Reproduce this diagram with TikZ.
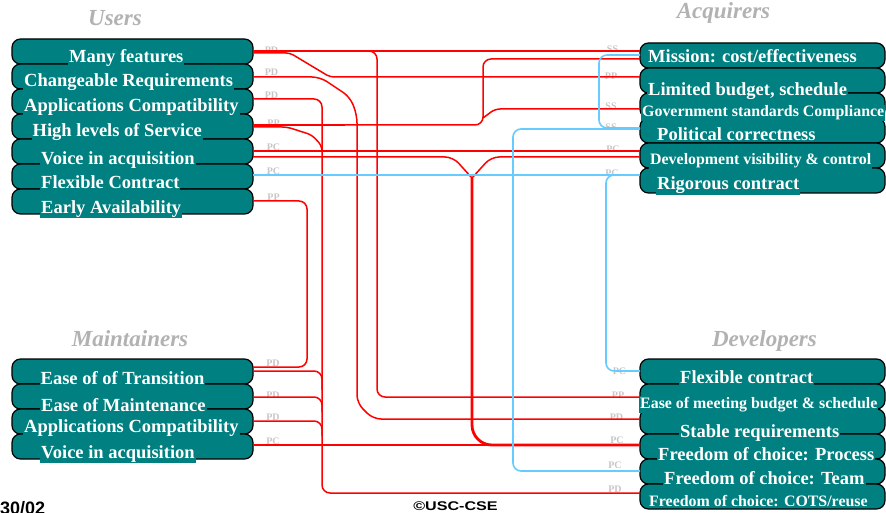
\documentclass[tikz,border=0pt]{standalone}
\usepackage{fontspec}
\setmainfont{Liberation Serif}
\setsansfont{Liberation Sans}
\usetikzlibrary{positioning}
\definecolor{stakeColor}{RGB}{0,128,128}
\definecolor{linkRedColor}{RGB}{255,0,0}
\definecolor{linkDarkColor}{RGB}{190,20,20}
\definecolor{linkBlueColor}{RGB}{102,204,255}
\colorlet{tagColor}{gray!45}
\colorlet{groupColor}{gray!60}

\begin{document}
\begin{tikzpicture}[x=1pt,y=-1pt,
    stakeBox/.style={draw=black, line width=1.2pt, fill=stakeColor, rounded corners=8.5pt,
      minimum height=25pt, inner sep=0, outer sep=0},
    leftBox/.style={stakeBox, minimum width=241pt},
    rightBox/.style={stakeBox, minimum width=245pt},
    stakeText/.style={fill=stakeColor, text=white, inner sep=1pt, anchor=base west,
      font=\fontsize{18.5}{20}\selectfont\bfseries},
    smallText/.style={font=\fontsize{15.9}{17}\selectfont\bfseries},
    relTag/.style={text=tagColor, inner sep=0, font=\fontsize{10}{10}\selectfont\bfseries},
    groupTitle/.style={text=groupColor, inner sep=0, anchor=base,
      font=\fontsize{23}{25}\selectfont\bfseries\itshape},
    linkRed/.style={draw=linkRedColor, line width=1.5pt, rounded corners=8pt},
    linkBlue/.style={draw=linkBlueColor, line width=1.6pt, rounded corners=8pt}
  ]
  \fill[white] (0,0) rectangle (886,513);
  \useasboundingbox (0,0) rectangle (886,513);

  % Users
  \node[leftBox] (u1) at (132.5,51.5) {};
  \node[leftBox, below=0pt of u1] (u2) {};
  \node[leftBox, below=0pt of u2] (u3) {};
  \node[leftBox, below=0pt of u3] (u4) {};
  \node[leftBox, below=0pt of u4] (u5) {};
  \node[leftBox, below=0pt of u5] (u6) {};
  \node[leftBox, below=0pt of u6] (u7) {};
  \node[stakeText] (u1t) at (68,63) {Many features};
  \node[stakeText] (u2t) at (23,86.5) {Changeable Requirements};
  \node[stakeText] (u3t) at (23,112) {Applications Compatibility};
  \node[stakeText] (u4t) at (31.5,137) {High levels of Service};
  \node[stakeText] (u5t) at (40,164.5) {Voice in acquisition};
  \node[stakeText] (u6t) at (40,189) {Flexible Contract};
  \node[stakeText] (u7t) at (40,213.5) {Early Availability};

  % Acquirers
  \node[rightBox] (a1) at (762.5,55.5) {};
  \node[rightBox, below=0pt of a1] (a2) {};
  \node[rightBox, below=0pt of a2] (a3) {};
  \node[rightBox, below=0pt of a3] (a4) {};
  \node[rightBox, below=0pt of a4] (a5) {};
  \node[rightBox, below=0pt of a5] (a6) {};
  \node[stakeText] (a1t) at (647,63) {Mission: cost/effectiveness};
  \node[stakeText] (a2t) at (647,95.5) {Limited budget, schedule};
  \node[stakeText, smallText] (a3t) at (641,117) {Government standards Compliance};
  \node[stakeText] (a4t) at (656,140.5) {Political correctness};
  \node[stakeText, smallText] (a5t) at (649,164.5) {Development visibility \& control};
  \node[stakeText] (a6t) at (656,189.5) {Rigorous contract};

  % Maintainers
  \node[leftBox] (m1) at (132.5,371.5) {};
  \node[leftBox, below=0pt of m1] (m2) {};
  \node[leftBox, below=0pt of m2] (m3) {};
  \node[leftBox, below=0pt of m3] (m4) {};
  \node[stakeText] (m1t) at (39.5,384.5) {Ease of of Transition};
  \node[stakeText] (m2t) at (40,411) {Ease of Maintenance};
  \node[stakeText] (m3t) at (23,432) {Applications Compatibility};
  \node[stakeText] (m4t) at (40,458.5) {Voice in acquisition};

  % Developers
  \node[rightBox] (d1) at (762.5,371.5) {};
  \node[rightBox, below=0pt of d1] (d2) {};
  \node[rightBox, below=0pt of d2] (d3) {};
  \node[rightBox, below=0pt of d3] (d4) {};
  \node[rightBox, below=0pt of d4] (d5) {};
  \node[rightBox, below=0pt of d5] (d6) {};
  \node[stakeText] (d1t) at (679,383.5) {Flexible contract};
  \node[stakeText, smallText] (d2t) at (639,408.5) {Ease of meeting budget \& schedule};
  \node[stakeText] (d3t) at (679,437) {Stable requirements};
  \node[stakeText] (d4t) at (657,460.5) {Freedom of choice: Process};
  \node[stakeText] (d5t) at (663,484.5) {Freedom of choice: Team};
  \node[stakeText, smallText] (d6t) at (648,506.5) {Freedom of choice: COTS/reuse};

  % group titles
  \node[groupTitle] (users) at (115,26) {Users};
  \node[groupTitle] (acquirers) at (723.5,18.3) {Acquirers};
  \node[groupTitle] (maintainers) at (130,346.7) {Maintainers};
  \node[groupTitle] (developers) at (764.5,346.7) {Developers};

  % relation tags
  \node[relTag] (tu1) at (271.5,50) {PD};
  \node[relTag] (tu2) at (271.5,72) {PD};
  \node[relTag] (tu3) at (271.5,95.5) {PD};
  \node[relTag] (tu4) at (273.5,123.5) {PP};
  \node[relTag] (tu5) at (273.5,147) {PC};
  \node[relTag] (tu6) at (273.5,171.5) {PC};
  \node[relTag] (tu7) at (273.5,197) {PP};
  \node[relTag] (ta1) at (612.5,49.3) {SS};
  \node[relTag] (ta2) at (611,76) {PP};
  \node[relTag] (ta3) at (611,106) {SS};
  \node[relTag] (ta4) at (611,127.3) {SS};
  \node[relTag] (ta5) at (613,149) {PC};
  \node[relTag] (ta6) at (612,173.3) {PC};
  \node[relTag] (tm1) at (273,363.3) {PD};
  \node[relTag] (tm2) at (273,395) {PD};
  \node[relTag] (tm3) at (273,417.3) {PD};
  \node[relTag] (tm4) at (273,441.7) {PC};
  \node[relTag] (td1) at (619.5,371.7) {PC};
  \node[relTag] (td2) at (618,395) {PP};
  \node[relTag] (td3) at (616.5,417.5) {PD};
  \node[relTag] (td4) at (617,440.7) {PC};
  \node[relTag] (td5) at (615,465.7) {PC};
  \node[relTag] (td6) at (615,489) {PD};

  % red connectors
  \draw[linkRed] ([yshift=0.5pt]u1.east) -- ([yshift=4.5pt]a1.west);
  \draw[linkRed] ([yshift=0.5pt]u1.east) -| (377,397) -- ([yshift=-0.5pt]d2.west);
  \draw[linkRed, rounded corners=4pt] ([yshift=-1.5pt]u1.east) -- (290,53) -- (330,77) -- ([yshift=3.5pt]a2.west);
  \draw[linkRed] ([yshift=-0.5pt]u2.east) -- (320,77) -- (350,97) -- (357,115) -- (357,403) -- (373,419) -- ([yshift=2.5pt]d3.west);
  \draw[linkRed] ([yshift=2.5pt]u3.east) -| (322,493) -- ([yshift=3.5pt]d6.west);
  \draw[linkRed, rounded corners=5pt] ([yshift=-0.5pt]u4.east) -- (287,127) -- (312,135) -- (322,146) -- (322,152);
  \draw[line width=2.6pt, draw=linkDarkColor] ([yshift=1.5pt]u4.east) -- ++(92,0) coordinate (hlsEnd);
  \coordinate (govFork) at (483,118);
  \draw[linkRed] ([yshift=1.5pt]u4.east) -| (483,59) -- ([yshift=-3.5pt]a1.west);
  \draw[linkRed, rounded corners=5pt] (govFork) -- (495,109) -- ([yshift=-3.5pt]a3.west);
  \draw[linkRed] ([yshift=0.5pt]u5.east) -- ([yshift=4.5pt]a5.west);
  \coordinate (yMerge) at (472,178);
  \draw[linkRed] ([yshift=-5.5pt]u5.east) -- (453,157) -- (yMerge);
  \draw[linkRed] ([yshift=-1.5pt]a5.west) -- (491,157) -- (yMerge);
  \draw[linkRed, line width=2.8pt, rounded corners=20pt] (yMerge) |- ([yshift=1.5pt]d4.west);
  \draw[linkRed] ([yshift=1.5pt]m4.east) -- ([yshift=1.5pt]d4.west);
  \draw[linkRed] ([yshift=0.5pt]u7.east) -| (307,367) -- ([yshift=4.5pt]m1.east);
  \draw[linkRed] ([yshift=0.5pt]m1.east) -| (322,390);
  \draw[linkRed] ([yshift=-0.5pt]m2.east) -| (322,412);
  \draw[linkRed] ([yshift=0.5pt]m3.east) -| (322,436);

  % blue connectors
  \draw[linkBlue] ([yshift=1.5pt]u6.east) -- ([yshift=5.5pt]a6.west);
  \draw[linkBlue] ([yshift=5.5pt]a6.west) -| (606,371) -- ([yshift=0.5pt]d1.west);
  \draw[linkBlue] ([yshift=1.5pt]a4.west) -| (513,471) -- ([yshift=0.5pt]d5.west);
  \draw[linkBlue] ([yshift=0.5pt]a1.west) -| (599,128) -- ([yshift=2.5pt]a4.west);

  % footer
  \node[anchor=base west, inner sep=0, font=\fontsize{18}{18}\selectfont\sffamily\bfseries] (date) at (0,514) {30/02};
  \node[anchor=base, inner sep=0, font=\fontsize{12.6}{13}\selectfont\sffamily\bfseries] (copy) at (455.5,510) {\scalebox{1.28}[1]{©USC-CSE}};
\end{tikzpicture}
\end{document}
